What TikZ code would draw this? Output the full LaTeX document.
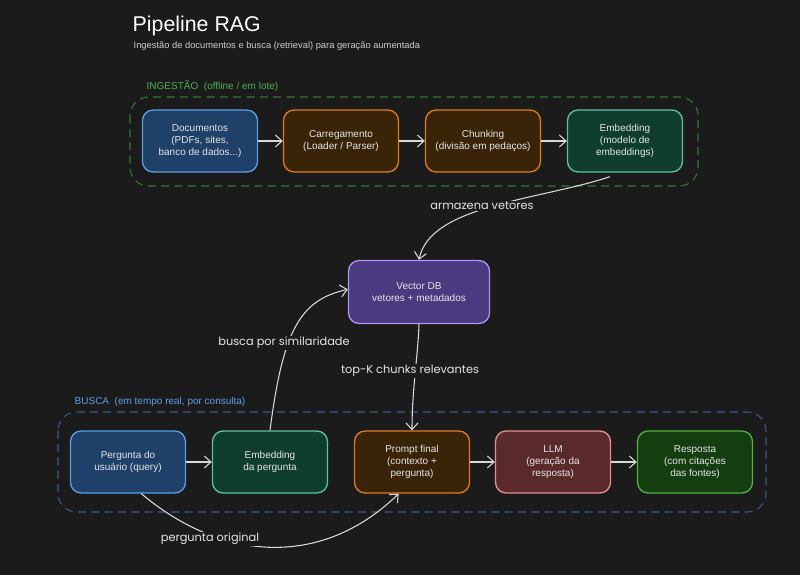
\documentclass[tikz,border=0pt]{standalone}
\usepackage{fontspec}
\setmainfont{Liberation Sans}
\newfontfamily\lblfont{Poppins}
\usetikzlibrary{arrows.meta}
\definecolor{bg}{HTML}{1B1B1B}
\definecolor{blueB}{HTML}{5A9EE0}\definecolor{blueF}{HTML}{1F4068}
\definecolor{oraB}{HTML}{E07A20}\definecolor{oraF}{HTML}{3A2408}
\definecolor{grnB}{HTML}{5FC0A0}\definecolor{grnF}{HTML}{0F3D30}
\definecolor{purB}{HTML}{B090F0}\definecolor{purF}{HTML}{4A3A80}
\definecolor{redB}{HTML}{E09090}\definecolor{redF}{HTML}{5A2A2A}
\definecolor{lgrB}{HTML}{50B040}\definecolor{lgrF}{HTML}{143D10}
\definecolor{ingC}{HTML}{2F7A32}\definecolor{ingT}{HTML}{4CAF50}
\definecolor{busC}{HTML}{3A5A8C}\definecolor{busT}{HTML}{5AA0E8}
\tikzset{
  box/.style={draw, line width=1pt, rounded corners=8pt, minimum width=115pt*0.75, minimum height=62pt*0.75,
    align=center, text=white!90!black, font=\fontsize{7.5}{9}\selectfont},
  flow/.style={draw=white!85!black, line width=0.8pt, -{Straight Barb[length=5pt,width=9pt]}},
  lbl/.style={text=white!90!black, fill=bg, inner sep=1pt, font=\lblfont\fontsize{8.5}{10}\selectfont},
  group/.style={dashed, dash pattern=on 6pt off 4pt, rounded corners=14pt, line width=0.8pt}
}
\begin{document}
\begin{tikzpicture}[x=0.75pt,y=-0.75pt]
  \fill[bg] (0,0) rectangle (800,575);
  \useasboundingbox (0,0) rectangle (800,575);
  % title
  \node[anchor=base west, text=white, font=\fontsize{16}{19}\selectfont] (title) at (128,31) {Pipeline RAG};
  \node[anchor=base west, text=white!80!black, font=\fontsize{7}{8}\selectfont] (subtitle) at (129,48) {Ingestão de documentos e busca (retrieval) para geração aumentada};
  % containers
  \draw[group, ingC] (130,97) rectangle (698,186);
  \node[anchor=base west, text=ingT, font=\fontsize{7.5}{9}\selectfont] (ingLbl) at (142,89) {INGESTÃO\ \ (offline / em lote)};
  \draw[group, busC] (58,412) rectangle (766,512);
  \node[anchor=base west, text=busT, font=\fontsize{7.5}{9}\selectfont] (busLbl) at (70,404) {BUSCA\ \ (em tempo real, por consulta)};
  % ingestion row
  \node[box, draw=blueB, fill=blueF] (docs) at (200,141) {Documentos\\(PDFs, sites,\\banco de dados...)};
  \node[box, draw=oraB, fill=oraF] (load) at (341,141) {Carregamento\\(Loader / Parser)};
  \node[box, draw=oraB, fill=oraF] (chunk) at (483,141) {Chunking\\(divisão em pedaços)};
  \node[box, draw=grnB, fill=grnF] (embed) at (625,141) {Embedding\\(modelo de\\embeddings)};
  % vector db
  \node[box, minimum width=141pt*0.75, minimum height=63pt*0.75, draw=purB, fill=purF] (vdb) at (419,292) {Vector DB\\vetores + metadados};
  % query row
  \node[box, draw=blueB, fill=blueF] (query) at (128,462) {Pergunta do\\usuário (query)};
  \node[box, draw=grnB, fill=grnF] (qembed) at (270,462) {Embedding\\da pergunta};
  \node[box, draw=oraB, fill=oraF] (prompt) at (412,462) {Prompt final\\(contexto +\\pergunta)};
  \node[box, draw=redB, fill=redF] (llm) at (553,462) {LLM\\(geração da\\resposta)};
  \node[box, draw=lgrB, fill=lgrF] (answer) at (695,462) {Resposta\\(com citações\\das fontes)};
  % straight flows
  \draw[flow] (docs) -- (load);
  \draw[flow] (load) -- (chunk);
  \draw[flow] (chunk) -- (embed);
  \draw[flow] (query) -- (qembed);
  \draw[flow] (prompt) -- (llm);
  \draw[flow] (llm) -- (answer);
  % curved flows
  \draw[flow] (embed.south) ++(-15,4) .. controls (540,200) and (430,205) .. (vdb.north);
  \node[lbl] (store) at (482,206) {armazena vetores};
  \draw[flow] (qembed.north) .. controls (283,330) and (300,300) .. ([yshift=2pt]vdb.west);
  \node[lbl] (sim) at (284,343) {busca por similaridade};
  \draw[flow] (vdb.south) .. controls (418,355) and (412,390) .. (prompt.north);
  \node[lbl] (topk) at (410,371) {top-K chunks relevantes};
  \draw[flow] ([xshift=10pt]query.south) .. controls (220,560) and (320,570) .. ([xshift=-10pt]prompt.south);
  \node[lbl] (orig) at (210,539) {pergunta original};
\end{tikzpicture}
\end{document}
